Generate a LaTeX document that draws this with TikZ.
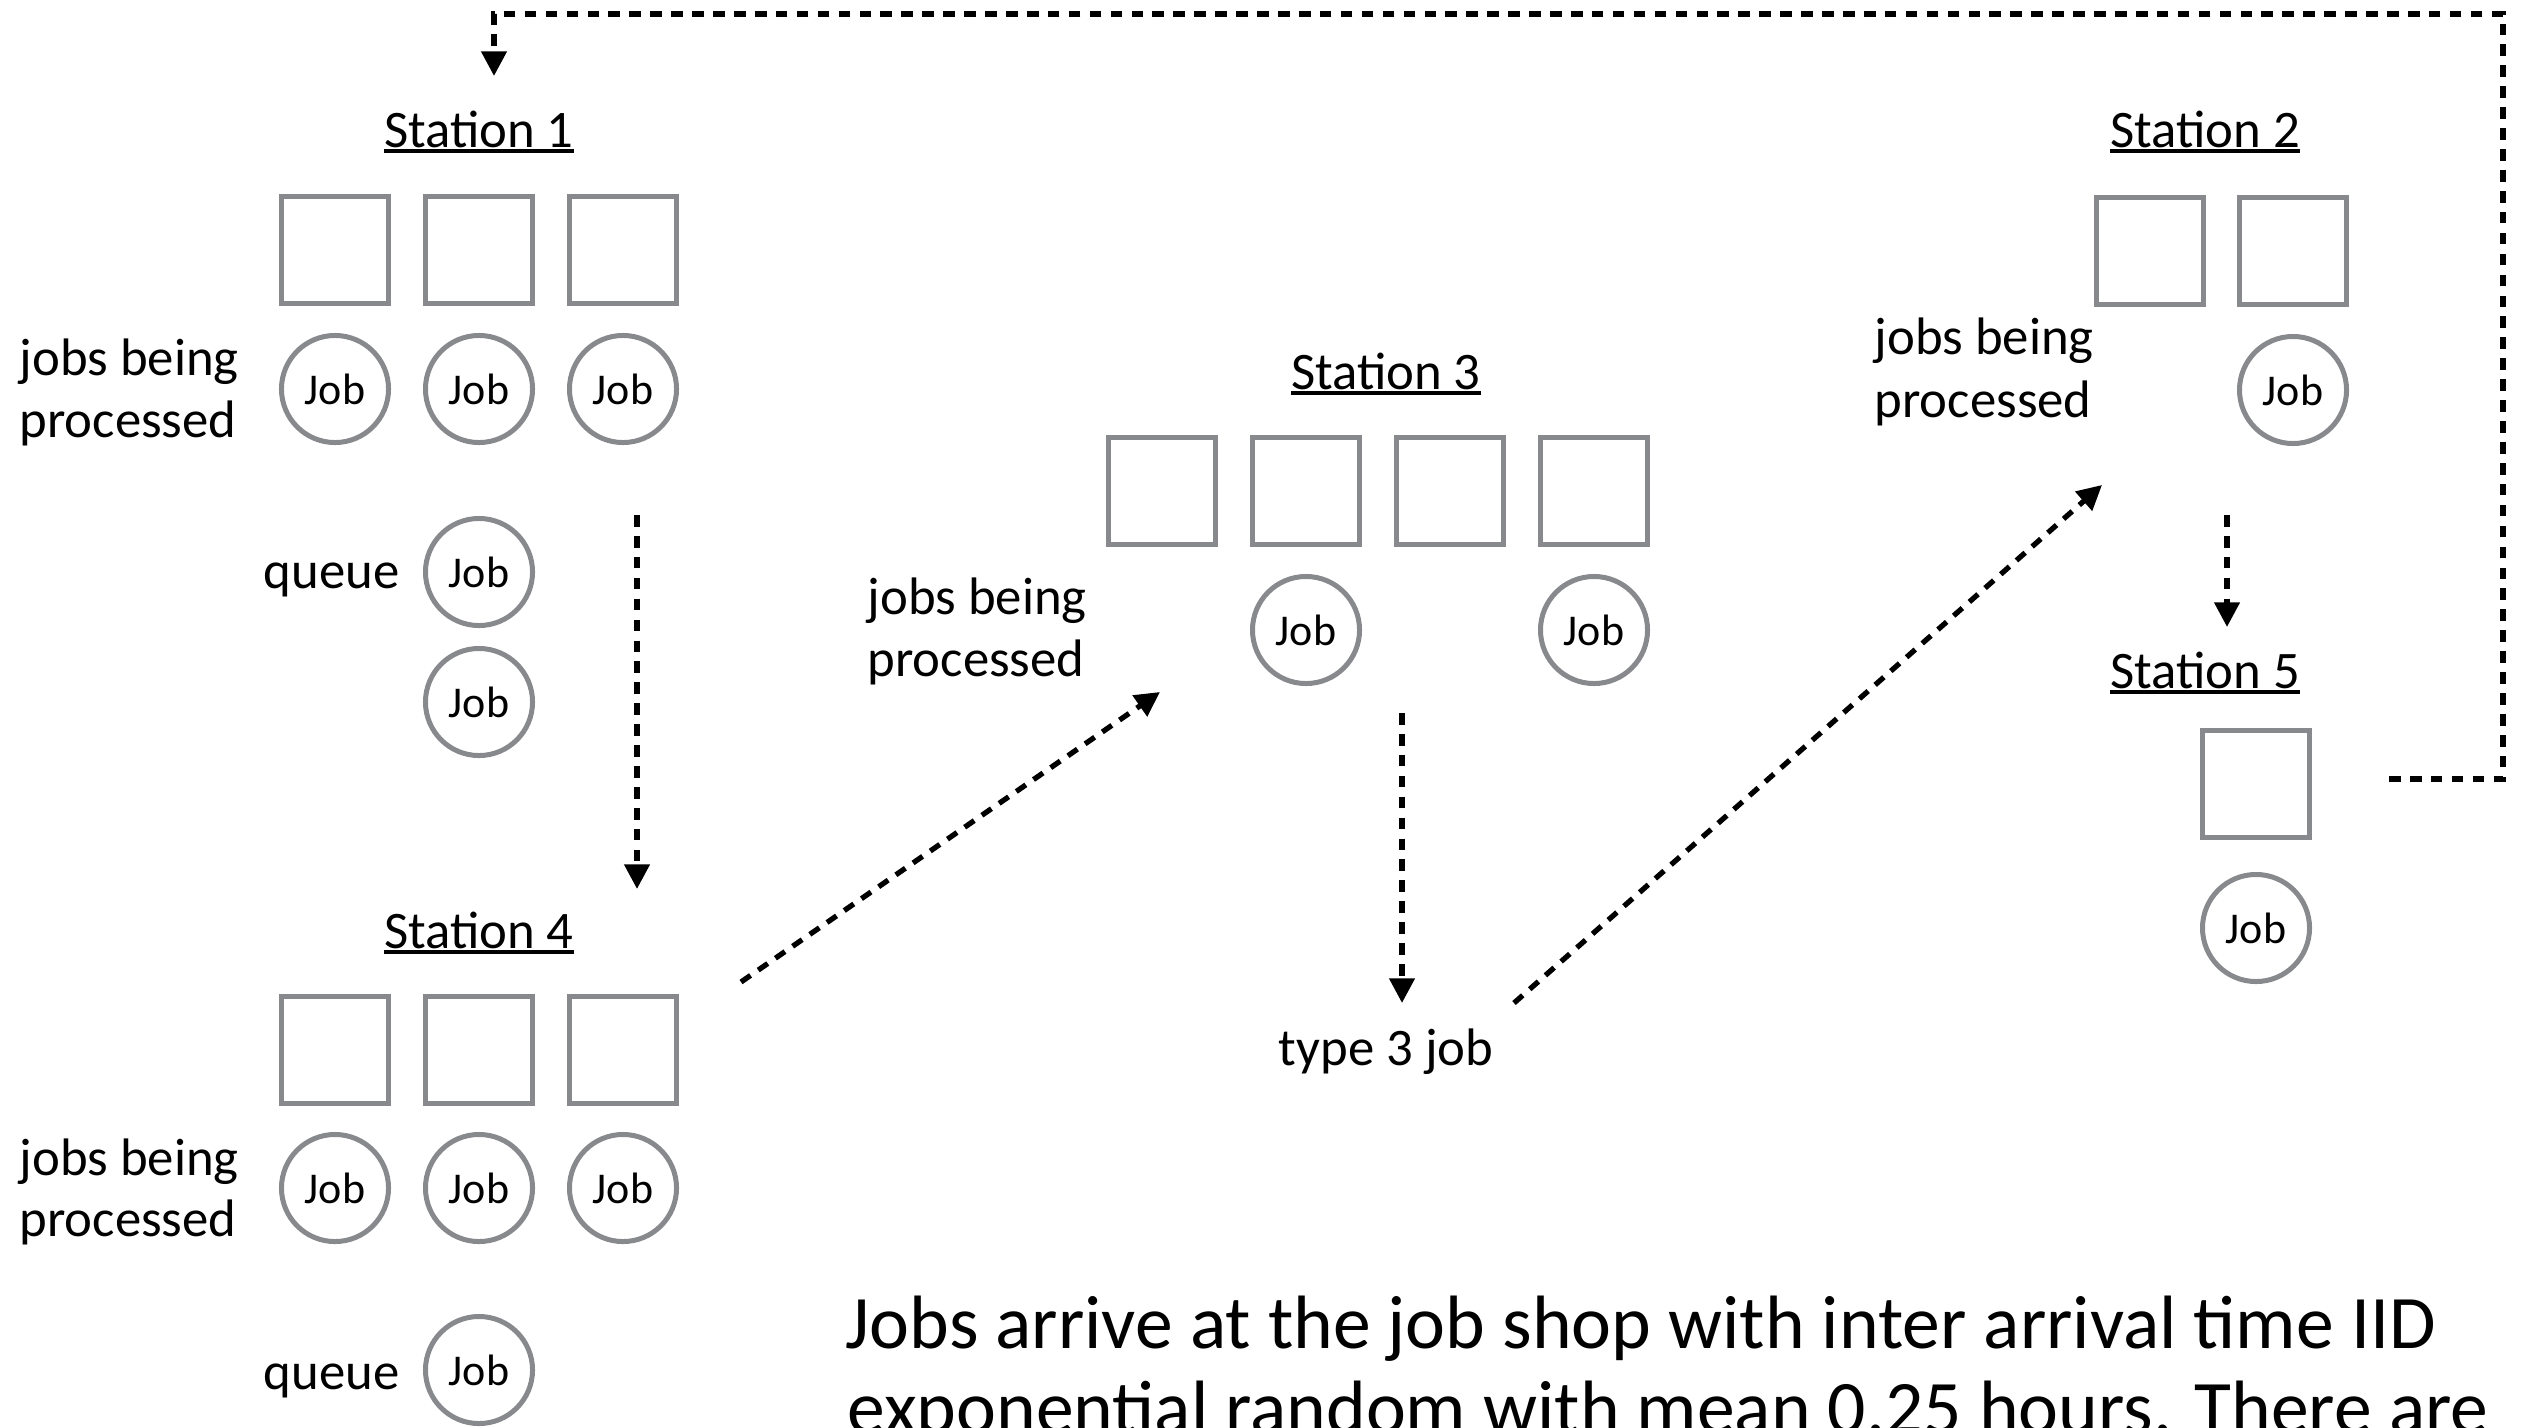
\documentclass[tikz,border=0pt]{standalone}
\usepackage{fontspec}
\setmainfont{Carlito}
\usetikzlibrary{arrows.meta}
\definecolor{slotgray}{RGB}{135,137,141}
% underlined station name with a rule drawn just below the baseline
\newcommand{\ulname}[1]{\setbox0=\hbox{#1}\rlap{\rule[-1.6pt]{\wd0}{0.9pt}}\box0}

\begin{document}
\begin{tikzpicture}[x=0.01cm, y=-0.01cm,
  slot/.style={draw=slotgray, line width=1.42pt, minimum width=1.07cm, minimum height=1.06cm, inner sep=0pt},
  job/.style={draw=slotgray, line width=1.42pt, circle, minimum size=1.07cm, inner sep=0pt,
              font=\fontsize{12.5pt}{14pt}\selectfont},
  lbl/.style={font=\fontsize{15pt}{18pt}\selectfont, inner sep=0pt},
  title/.style={lbl, anchor=base},
  note/.style={font=\fontsize{21.5pt}{24pt}\selectfont, inner sep=0pt, anchor=base west},
  flow/.style={line width=1.5pt, dash pattern=on 3.3pt off 2.65pt,
               -{Triangle[length=7pt,width=7pt]}}
]
\useasboundingbox (0,0) rectangle (2522,1427);
\clip (0,0) rectangle (2522,1427);

% ---------------- Station 1 ----------------
\node[title] (t1) at (479,147) {\ulname{Station 1}};
\node[slot] (s1a) at (335,250) {};
\node[slot] (s1b) at (479,250) {};
\node[slot] (s1c) at (623,250) {};
\node[job] (j1a) at (335,389) {Job};
\node[job] (j1b) at (479,389) {Job};
\node[job] (j1c) at (623,389) {Job};
\node[lbl, anchor=base west] (p1a) at (19,375) {jobs being};
\node[lbl, anchor=base west] (p1b) at (19,437) {processed};
\node[lbl, anchor=base east] (q1) at (400,588) {queue};
\node[job] (q1a) at (479,572) {Job};
\node[job] (q1b) at (479,702) {Job};

% ---------------- Station 4 ----------------
\node[title] (t4) at (479,948) {\ulname{Station 4}};
\node[slot] (s4a) at (335,1050) {};
\node[slot] (s4b) at (479,1050) {};
\node[slot] (s4c) at (623,1050) {};
\node[job] (j4a) at (335,1188) {Job};
\node[job] (j4b) at (479,1188) {Job};
\node[job] (j4c) at (623,1188) {Job};
\node[lbl, anchor=base west] (p4a) at (19,1175) {jobs being};
\node[lbl, anchor=base west] (p4b) at (19,1236) {processed};
\node[lbl, anchor=base east] (q4) at (400,1389) {queue};
\node[job] (q4a) at (479,1370) {Job};

% ---------------- Station 3 ----------------
\node[title] (t3) at (1386,389) {\ulname{Station 3}};
\node[slot] (s3a) at (1162,491) {};
\node[slot] (s3b) at (1306,491) {};
\node[slot] (s3c) at (1450,491) {};
\node[slot] (s3d) at (1594,491) {};
\node[job] (j3b) at (1306,630) {Job};
\node[job] (j3d) at (1594,630) {Job};
\node[lbl, anchor=base west] (p3a) at (867,614) {jobs being};
\node[lbl, anchor=base west] (p3b) at (867,676) {processed};
\node[lbl, anchor=base] (type3) at (1386,1065) {type 3 job};

% ---------------- Station 2 ----------------
\node[title] (t2) at (2205,147) {\ulname{Station 2}};
\node[slot] (s2a) at (2150,251) {};
\node[slot] (s2b) at (2293,251) {};
\node[job] (j2b) at (2293,390) {Job};
\node[lbl, anchor=base west] (p2a) at (1874,354) {jobs being};
\node[lbl, anchor=base west] (p2b) at (1874,417) {processed};

% ---------------- Station 5 ----------------
\node[title] (t5) at (2205,688) {\ulname{Station 5}};
\node[slot] (s5a) at (2256,784) {};
\node[job] (j5a) at (2256,928) {Job};

% ---------------- description (runs past the lower edge) ----------------
\node[note] (desc1) at (845,1348) {Jobs arrive at the job shop with inter arrival time IID};
\node[note] (desc2) at (847,1433) {exponential random with mean 0.25 hours. There are};

% ---------------- routing arrows ----------------
\coordinate (a1s) at (637,515);   \coordinate (a1e) at (637,889);
\coordinate (a2s) at (741,982);   \coordinate (a2e) at (1160,692);
\coordinate (a3s) at (1402,713);  \coordinate (a3e) at (1402,1003);
\coordinate (a4s) at (1514,1003); \coordinate (a4e) at (2102,485);
\coordinate (a5s) at (2227,515);  \coordinate (a5e) at (2227,627);
\coordinate (backS) at (2389,779);
\coordinate (backR) at (2503,14);
\coordinate (backL) at (494,14);
\coordinate (backE) at (494,76);

\draw[flow] (a1s) -- (a1e);
\draw[flow] (a2s) -- (a2e);
\draw[flow] (a3s) -- (a3e);
\draw[flow] (a4s) -- (a4e);
\draw[flow] (a5s) -- (a5e);
\draw[flow] (backS) -| (backR) -- (backL) -- (backE);
\end{tikzpicture}
\end{document}
